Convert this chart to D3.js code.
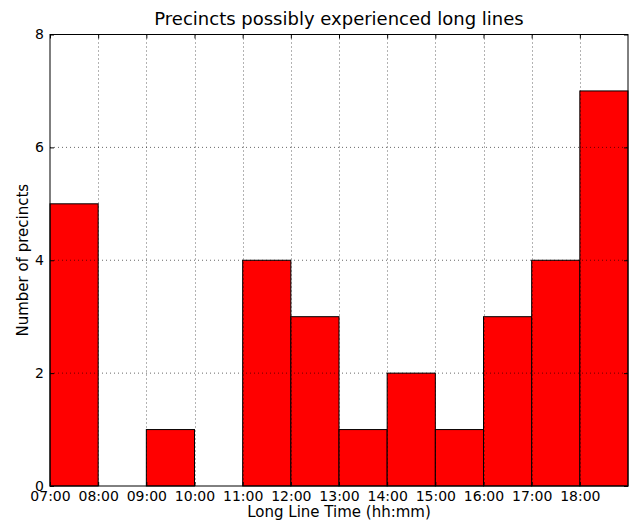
<!DOCTYPE html>
<html>
<head>
<meta charset="utf-8">
<script src="https://cdn.jsdelivr.net/npm/d3@7"></script>
<style>
  html, body { margin: 0; padding: 0; background: #fff; }
  svg { display: block; }
  text { font-family: "DejaVu Sans", sans-serif; fill: #000; }
</style>
</head>
<body>
<svg id="chart" width="629" height="521"></svg>
<script>
// ---- data ----
const binStartHours = [7, 8, 9, 10, 11, 12, 13, 14, 15, 16, 17, 18];
const binWidthHours = 1;
const counts = [5, 0, 1, 0, 4, 3, 1, 2, 1, 3, 4, 7];
const xTickLabels = ["07:00", "08:00", "09:00", "10:00", "11:00", "12:00",
                     "13:00", "14:00", "15:00", "16:00", "17:00", "18:00"];
const yTicks = [0, 2, 4, 6, 8];
const titleText = "Precincts possibly experienced long lines";
const xLabelText = "Long Line Time (hh:mm)";
const yLabelText = "Number of precincts";

// ---- layout ----
const svg = d3.select("#chart");
const L = 50, R = 628, T = 34.5, B = 486;

const x = d3.scaleLinear().domain([7, 19]).range([L, R]);
const y = d3.scaleLinear().domain([0, 8]).range([B, T]);

// bars
svg.append("g").selectAll("rect")
  .data(binStartHours.map((h, i) => ({h, c: counts[i]})))
  .join("rect")
  .attr("x", d => x(d.h))
  .attr("y", d => y(d.c))
  .attr("width", d => x(d.h + binWidthHours) - x(d.h))
  .attr("height", d => y(0) - y(d.c))
  .attr("fill", "#ff0000")
  .attr("stroke", "#000")
  .attr("stroke-width", 1);

// grid (drawn above bars, as in the reference)
const grid = svg.append("g")
  .attr("stroke", "#000")
  .attr("stroke-width", 0.6)
  .attr("stroke-dasharray", "1,3");
grid.selectAll("line.v")
  .data(binStartHours.filter(h => h > 7))
  .join("line").attr("class", "v")
  .attr("x1", d => Math.round(x(d)) + 0.5).attr("x2", d => Math.round(x(d)) + 0.5)
  .attr("y1", T).attr("y2", B);
grid.selectAll("line.h")
  .data(yTicks.filter(v => v > 0 && v < 8))
  .join("line").attr("class", "h")
  .attr("y1", d => y(d)).attr("y2", d => y(d))
  .attr("x1", L).attr("x2", R);

// axes (ticks inward, labels)
const xAxis = d3.axisBottom(x)
  .tickValues(binStartHours)
  .tickFormat((d, i) => xTickLabels[i])
  .tickSizeInner(-4).tickSizeOuter(0).tickPadding(5);
const gx = svg.append("g").attr("transform", `translate(0,${B})`).call(xAxis);
gx.select(".domain").remove();
gx.selectAll("text").style("font-size", "14px").style("font-family", "DejaVu Sans").attr("fill", "#000");

const xAxisTop = d3.axisTop(x).tickValues(binStartHours).tickFormat("")
  .tickSizeInner(-4).tickSizeOuter(0);
const gxt = svg.append("g").attr("transform", `translate(0,${T})`).call(xAxisTop);
gxt.select(".domain").remove();

const yAxis = d3.axisLeft(y).tickValues(yTicks).tickFormat(d3.format("d"))
  .tickSizeInner(-4).tickSizeOuter(0).tickPadding(6);
const gy = svg.append("g").attr("transform", `translate(${L},0)`).call(yAxis);
gy.select(".domain").remove();
gy.selectAll("text").style("font-size", "14px").style("font-family", "DejaVu Sans").attr("fill", "#000");

const yAxisRight = d3.axisRight(y).tickValues(yTicks).tickFormat("")
  .tickSizeInner(-4).tickSizeOuter(0);
const gyr = svg.append("g").attr("transform", `translate(${R},0)`).call(yAxisRight);
gyr.select(".domain").remove();

// frame
svg.append("rect")
  .attr("x", L).attr("y", T)
  .attr("width", R - L).attr("height", B - T)
  .attr("fill", "none").attr("stroke", "#000").attr("stroke-width", 1);

// title and labels
svg.append("text")
  .attr("x", (L + R) / 2).attr("y", 25)
  .attr("text-anchor", "middle")
  .style("font-size", "18px")
  .text(titleText);

svg.append("text")
  .attr("x", (L + R) / 2).attr("y", 517)
  .attr("text-anchor", "middle")
  .style("font-size", "15px")
  .text(xLabelText);

svg.append("text")
  .attr("transform", `translate(28,${(T + B) / 2}) rotate(-90)`)
  .attr("text-anchor", "middle")
  .style("font-size", "15px")
  .text(yLabelText);
</script>
</body>
</html>
